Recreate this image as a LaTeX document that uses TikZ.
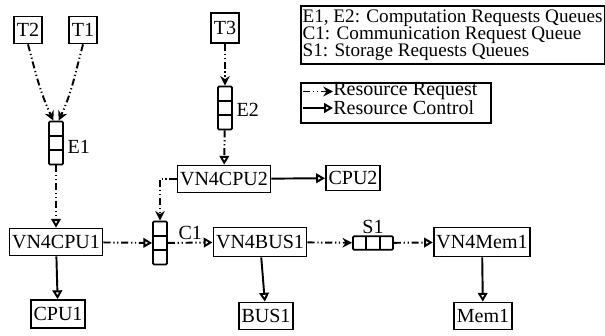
\documentclass[tikz,border=0pt]{standalone}
\usepackage{fontspec}
\setmainfont{Liberation Serif}
\usetikzlibrary{positioning, shapes, arrows.meta, calc}

\newcommand{\dgfont}{\fontsize{11.4}{10.6}\selectfont}

\tikzset{
  blk/.style={draw, line width=1pt, rectangle, inner sep=1.5pt, minimum height=0.54cm, font=\dgfont},
  queuev/.style={draw, line width=1pt, rectangle, inner sep=0pt, minimum width=0.28cm,
    minimum height=0.86cm, rounded corners=0.6pt,
    path picture={
      \foreach \f in {1/3, 2/3}
        \draw[line width=1pt] ($(path picture bounding box.north west)!\f!(path picture bounding box.south west)$)
          -- ($(path picture bounding box.north east)!\f!(path picture bounding box.south east)$);
    }},
  queueh/.style={draw, line width=1pt, rectangle, inner sep=0pt, minimum width=0.8cm,
    minimum height=0.27cm, rounded corners=0.6pt,
    path picture={
      \foreach \f in {1/3, 2/3}
        \draw[line width=1pt] ($(path picture bounding box.north west)!\f!(path picture bounding box.north east)$)
          -- ($(path picture bounding box.south west)!\f!(path picture bounding box.south east)$);
    }},
  qlab/.style={font=\dgfont, inner sep=1pt},
  req/.style={line width=1.1pt, dash pattern=on 4pt off 1.6pt on 0.7pt off 1.5pt on 0.7pt off 1.6pt},
  ctl/.style={line width=1.1pt},
  opentip/.style={-{Triangle[open, length=5pt, width=5.5pt]}},
  qtip/.style={-{Stealth[length=5.5pt, width=5.5pt]}}
}

\begin{document}
\begin{tikzpicture}[x=0.02cm, y=-0.02cm]
  \useasboundingbox (0,0) rectangle (605,335);

  % Tasks
  \node[blk] (t2) at (28,30) {T2};
  \node[blk] (t1) at (83,30) {T1};
  \node[blk, minimum height=0.6cm] (t3) at (225,28) {T3};

  % Queues
  \node[queuev] (e1) at (56,143) {};
  \node[qlab, right=1pt of e1, yshift=-2pt] (e1lab) {E1};
  \node[queuev] (e2) at (225,108) {};
  \node[qlab, right=1pt of e2, yshift=-1pt] (e2lab) {E2};
  \node[queuev] (c1) at (160,243) {};
  \node[queueh] (s1) at (373,243) {};
  \node[qlab, above=0pt of s1] (s1lab) {S1};

  % Virtual nodes and resources
  \node[blk] (vn4cpu2) at (224,179) {VN4CPU2};
  \node[blk, minimum height=0.5cm] (cpu2) at (353,178) {CPU2};
  \node[blk] (vn4cpu1) at (56,242) {VN4CPU1};
  \node[blk, minimum height=0.56cm] (cpu1) at (58,314) {CPU1};
  \node[blk, minimum height=0.58cm] (vn4bus1) at (260,242) {VN4BUS1};
  \node[blk] (bus1) at (266,316) {BUS1};
  \node[blk, minimum height=0.58cm] (vn4mem1) at (482,242) {VN4Mem1};
  \node[blk] (mem1) at (483,316) {Mem1};

  % Resource requests
  \draw[req, qtip] (t2.south) to[out=-75, in=115] ([xshift=-1.5pt]e1.north);
  \draw[req, qtip] (t1.south) to[out=-105, in=65] ([xshift=1.5pt]e1.north);
  \draw[req, opentip] (e1) -- (vn4cpu1);
  \draw[req, qtip] (t3) -- (e2);
  \draw[req, opentip] (e2) -- (vn4cpu2);
  \draw[req, qtip] (vn4cpu2.west) -| (c1.north);
  \draw[req, opentip] (vn4cpu1) -- (c1);
  \draw[req, opentip] (c1) -- node[qlab, above] (c1lab) {C1} (vn4bus1);
  \draw[req, qtip] (vn4bus1) -- (s1);
  \draw[req, opentip] (s1) -- (vn4mem1);

  % Resource control
  \draw[ctl, opentip] (vn4cpu2) -- (cpu2);
  \draw[ctl, opentip] (vn4cpu1) -- (cpu1);
  \draw[ctl, opentip] (vn4bus1) -- (bus1);
  \draw[ctl, opentip] (vn4mem1) -- (mem1);

  % Legends
  \node[draw, line width=1pt, anchor=north west, align=left, inner sep=1pt, minimum width=6.04cm,
    minimum height=1.16cm, font=\fontsize{10.9}{9.6}\selectfont] (keyq) at (300,5)
    {E1, E2: Computation Requests Queues\\C1: Communication Request Queue\\S1: Storage Requests Queues};
  \node[draw, line width=1pt, anchor=north west, minimum width=3.8cm, minimum height=0.8cm] (keyr) at (300,82) {};
  \node[anchor=west, inner sep=0pt, font=\dgfont] (reqtxt) at (333,91.5) {Resource Request};
  \node[anchor=west, inner sep=0pt, font=\dgfont] (ctltxt) at (333,108) {Resource Control};
  \coordinate (reqstart) at (303,91.5);
  \coordinate (ctlstart) at (303,108);
  \draw[req, qtip] (reqstart) -- (reqtxt.west);
  \draw[ctl, opentip] (ctlstart) -- (ctltxt.west);
\end{tikzpicture}
\end{document}
